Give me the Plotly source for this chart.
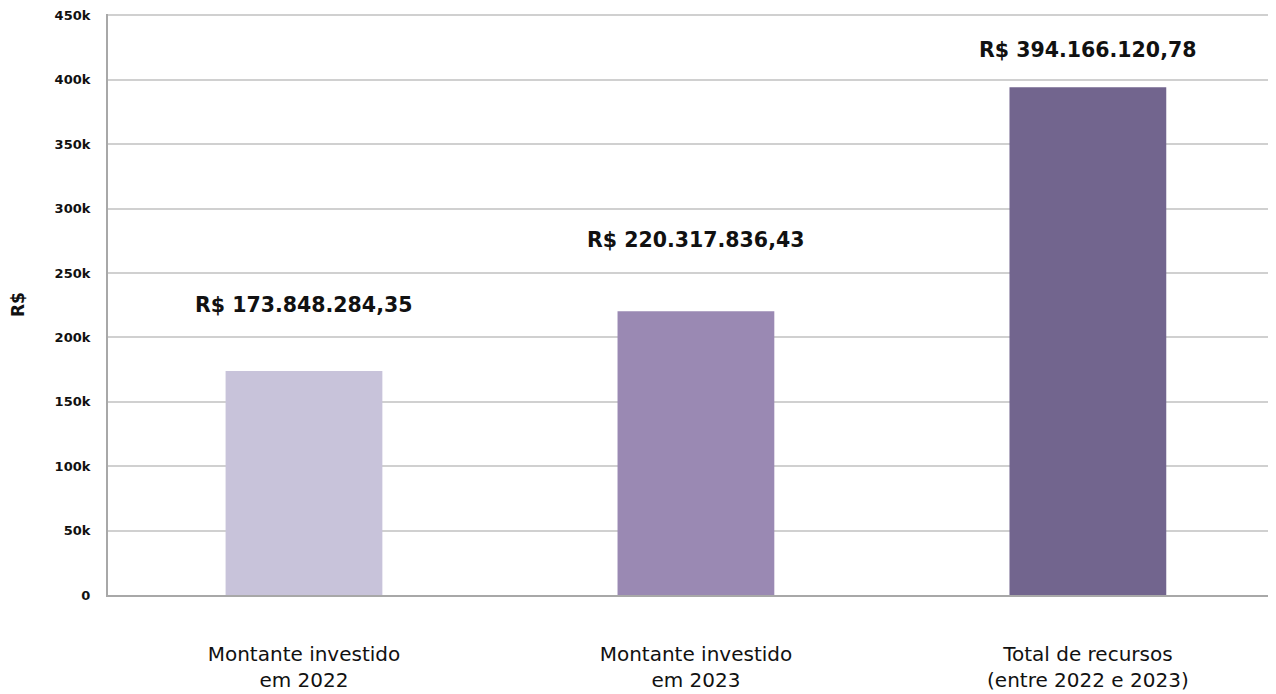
import plotly.graph_objects as go

categories = ["Montante investido<br>em 2022", "Montante investido<br>em 2023", "Total de recursos<br>(entre 2022 e 2023)"]
values = [173848.28435, 220317.83643, 394166.12078]
value_labels = ["R$ 173.848.284,35", "R$ 220.317.836,43", "R$ 394.166.120,78"]
label_shift = [66, 71, 37]
colors = ["#C8C3DA", "#9A89B3", "#72658E"]
xpos = [0, 1, 2]
yticks = [0, 50000, 100000, 150000, 200000, 250000, 300000, 350000, 400000, 450000]
yticktext = ["0", "50k", "100k", "150k", "200k", "250k", "300k", "350k", "400k", "450k"]

FONT = "DejaVu Sans"

fig = go.Figure()
fig.add_trace(go.Bar(x=xpos, y=values, marker=dict(color=colors, line=dict(width=0)),
                     width=0.4, hoverinfo="skip"))

for x, v, t, s in zip(xpos, values, value_labels, label_shift):
    fig.add_annotation(x=x, y=v, text="<b>" + t + "</b>", showarrow=False, yshift=s,
                       font=dict(family=FONT, size=20.5, color="#111111"),
                       xanchor="center", yanchor="middle")

fig.update_layout(
    width=1268, height=686,
    margin=dict(l=100, r=0, t=6, b=99),
    plot_bgcolor="white", paper_bgcolor="white",
    showlegend=False,
    xaxis=dict(range=[-0.5, 2.48], tickvals=xpos, ticktext=categories,
               showgrid=False, showline=True, linecolor="#A8A8A8", linewidth=2,
               ticks="", ticklabelstandoff=40, automargin=False,
               tickfont=dict(family=FONT, size=20, color="#111111")),
    yaxis=dict(range=[0, 451000], tickvals=yticks, ticktext=yticktext,
               showgrid=True, gridcolor="#D0D0D0", gridwidth=1.5,
               showline=True, linecolor="#A8A8A8", linewidth=2, mirror=False,
               zeroline=False, ticks="", ticklabelstandoff=13, automargin=False,
               ticklabeloverflow="allow",
               tickfont=dict(family=FONT, size=13, color="#111111", weight="bold"),
               title=dict(text="<b>R$</b>", standoff=28,
                          font=dict(family=FONT, size=17, color="#111111"))),
)

fig.write_html("out.html")
